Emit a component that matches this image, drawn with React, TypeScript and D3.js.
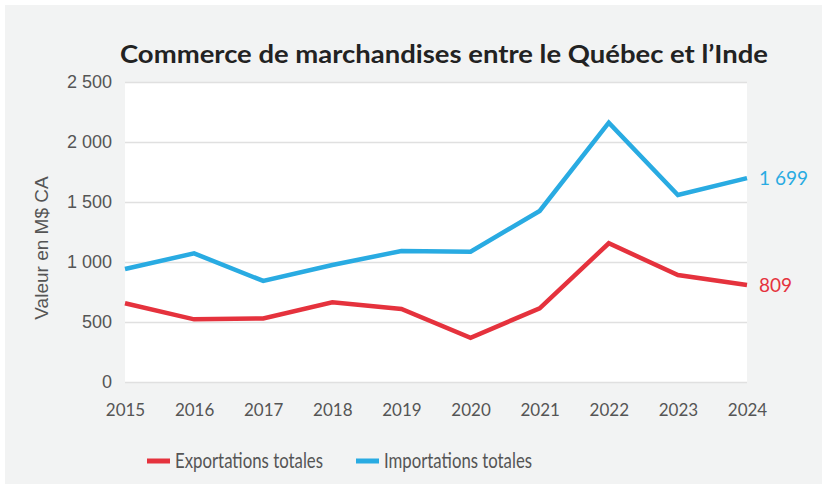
import { useRef, useEffect } from 'react'
import * as d3 from 'd3'

const years = ['2015', '2016', '2017', '2018', '2019', '2020', '2021', '2022', '2023', '2024']
const exportations = [656, 522, 530, 664, 608, 369, 614, 1156, 892, 809]
const importations = [942, 1072, 842, 975, 1092, 1086, 1425, 2161, 1558, 1699]
const yTicks = [0, 500, 1000, 1500, 2000, 2500]

const RED = '#e5323d'
const BLUE = '#29abe2'
const AVENIR = "Lato, 'Noto Sans', sans-serif"
const HELV = "'Liberation Sans', Arial, sans-serif"

const fmt = (v: number) => d3.format(',')(v).replace(/,/g, ' ')

export default function App() {
  const svgRef = useRef<SVGSVGElement>(null)

  useEffect(() => {
    if (!svgRef.current) return
    const width = 822
    const height = 484
    const svg = d3.select(svgRef.current)
    svg.selectAll('*').remove()
    svg.attr('width', width).attr('height', height)

    // gray card background
    svg.append('rect')
      .attr('x', 5).attr('y', 5)
      .attr('width', width - 5).attr('height', height - 5)
      .attr('fill', '#f2f3f3')

    const margin = { top: 82, right: 75, bottom: 102, left: 125 }
    const w = width - margin.left - margin.right
    const h = height - margin.top - margin.bottom

    const g = svg.append('g')
      .attr('transform', `translate(${margin.left},${margin.top})`)

    g.append('rect')
      .attr('width', w).attr('height', h)
      .attr('fill', '#ffffff')

    const x = d3.scalePoint<string>().domain(years).range([0, w])
    const y = d3.scaleLinear().domain([0, 2500]).range([h, 0])

    // Title (condensed-ish bold, stretched to the reference width)
    svg.append('text')
      .attr('x', 120).attr('y', 63)
      .attr('fill', '#222')
      .attr('font-size', '24px')
      .attr('font-weight', 700)
      .attr('font-family', AVENIR)
      .attr('textLength', 648)
      .attr('lengthAdjust', 'spacingAndGlyphs')
      .text('Commerce de marchandises entre le Québec et l’Inde')

    // Y axis with gridlines
    g.append('g')
      .call(d3.axisLeft(y).tickValues(yTicks).tickSize(-w).tickPadding(13).tickFormat(d => fmt(+d)))
      .call(g => g.select('.domain').remove())
      .call(g => g.selectAll('.tick line')
        .attr('stroke', '#e0e0e0')
        .attr('stroke-width', 1.5))
      .selectAll('text')
      .attr('fill', '#555')
      .attr('font-size', '18px')
      .attr('font-family', HELV)

    // X axis
    g.append('g')
      .attr('transform', `translate(0,${h})`)
      .call(d3.axisBottom(x).tickSize(0).tickPadding(22))
      .call(g => g.select('.domain').remove())
      .selectAll('text')
      .attr('fill', '#555')
      .attr('font-size', '17px')
      .attr('font-family', AVENIR)

    // Y axis title
    svg.append('text')
      .attr('transform', `translate(48,248) rotate(-90)`)
      .attr('text-anchor', 'middle')
      .attr('fill', '#555')
      .attr('font-size', '19px')
      .attr('font-family', HELV)
      .text('Valeur en M$ CA')

    const line = d3.line<number>()
      .x((_, i) => x(years[i])!)
      .y(d => y(d))

    const series = [
      { name: 'Exportations totales', values: exportations, color: RED },
      { name: 'Importations totales', values: importations, color: BLUE },
    ]

    series.forEach(s => {
      g.append('path')
        .datum(s.values)
        .attr('fill', 'none')
        .attr('stroke', s.color)
        .attr('stroke-width', 4.5)
        .attr('stroke-linejoin', 'miter')
        .attr('d', line)

      const last = s.values[s.values.length - 1]
      g.append('text')
        .attr('x', w + 12)
        .attr('y', y(last))
        .attr('dy', '0.35em')
        .attr('fill', s.color)
        .attr('font-size', '19px')
        .attr('font-family', AVENIR)
        .text(fmt(last))
    })

    // Legend
    const legend = svg.append('g').attr('transform', 'translate(147,461)')
    const offsets = [0, 209]
    series.forEach((s, i) => {
      const lg = legend.append('g').attr('transform', `translate(${offsets[i]},0)`)
      lg.append('line')
        .attr('x1', 0).attr('x2', 23)
        .attr('stroke', s.color)
        .attr('stroke-width', 5)
      lg.append('text')
        .attr('x', 28)
        .attr('dy', '0.35em')
        .attr('fill', '#555')
        .attr('font-size', '21px')
        .attr('font-family', AVENIR)
        .attr('textLength', 148)
        .attr('lengthAdjust', 'spacingAndGlyphs')
        .text(s.name)
    })
  }, [])

  return <svg ref={svgRef} style={{ position: 'absolute', left: 0, top: 0 }} />
}
